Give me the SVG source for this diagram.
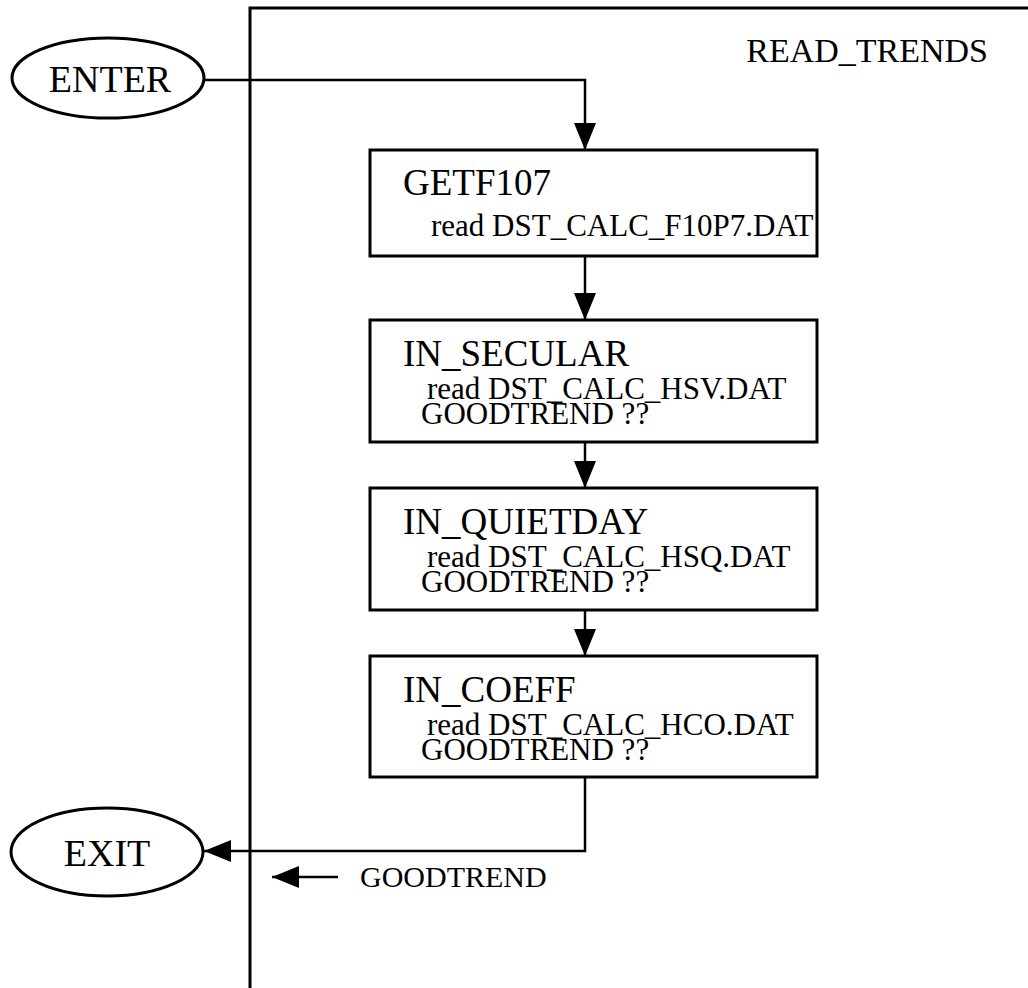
<svg xmlns="http://www.w3.org/2000/svg" width="1028" height="988" viewBox="0 0 1028 988">
<style>
.bg{fill:#fff}
.frame{fill:none;stroke:#000;stroke-width:3}
.box{fill:#fff;stroke:#000;stroke-width:3}
.oval{fill:#fff;stroke:#000;stroke-width:3}
.line{fill:none;stroke:#000;stroke-width:2.5}
.t{font-family:"Liberation Serif","Times New Roman",serif;fill:#000}
.title{font-size:37px}
.detail{font-size:31px}
.term{font-size:38px;text-anchor:middle}
.hdr{font-size:34px;text-anchor:end}
.lbl{font-size:30px}
</style>
<defs>
<marker id="ah" markerUnits="userSpaceOnUse" markerWidth="28" markerHeight="24" refX="27" refY="11" orient="auto">
<polygon points="0,0 27,11 0,22" fill="#000"/>
</marker>
</defs>
<rect class="bg" x="0" y="0" width="1028" height="988"/>
<g id="frame">
<path class="frame" d="M250,988 V8 H1028"/>
<text class="t hdr" x="988" y="62">READ_TRENDS</text>
</g>
<g id="connectors">
<path class="line" d="M204,80 H585 V150" marker-end="url(#ah)"/>
<path class="line" d="M585,256 V320" marker-end="url(#ah)"/>
<path class="line" d="M585,442 V488" marker-end="url(#ah)"/>
<path class="line" d="M585,610 V656" marker-end="url(#ah)"/>
<path class="line" d="M585,777 V851 H204" marker-end="url(#ah)"/>
<path class="line" d="M338,877 H272" marker-end="url(#ah)"/>
<text class="t lbl" x="360" y="887">GOODTREND</text>
</g>
<g id="enter">
<ellipse class="oval" cx="108" cy="78" rx="96" ry="40"/>
<text class="t term" x="110" y="92">ENTER</text>
</g>
<g id="getf107">
<rect class="box" x="370" y="150" width="447" height="106"/>
<text class="t title" x="403" y="195">GETF107</text>
<text class="t detail" x="431" y="236">read DST_CALC_F10P7.DAT</text>
</g>
<g id="in_secular">
<rect class="box" x="370" y="320" width="447" height="122"/>
<text class="t title" x="403" y="366">IN_SECULAR</text>
<text class="t detail" x="427" y="399">read DST_CALC_HSV.DAT</text>
<text class="t detail" x="421" y="424">GOODTREND ??</text>
</g>
<g id="in_quietday">
<rect class="box" x="370" y="488" width="447" height="122"/>
<text class="t title" x="403" y="534">IN_QUIETDAY</text>
<text class="t detail" x="427" y="567">read DST_CALC_HSQ.DAT</text>
<text class="t detail" x="421" y="592">GOODTREND ??</text>
</g>
<g id="in_coeff">
<rect class="box" x="370" y="656" width="447" height="121"/>
<text class="t title" x="403" y="702">IN_COEFF</text>
<text class="t detail" x="427" y="735">read DST_CALC_HCO.DAT</text>
<text class="t detail" x="421" y="760">GOODTREND ??</text>
</g>
<g id="exit">
<ellipse class="oval" cx="107" cy="852" rx="96" ry="44"/>
<text class="t term" x="107" y="866">EXIT</text>
</g>
</svg>
